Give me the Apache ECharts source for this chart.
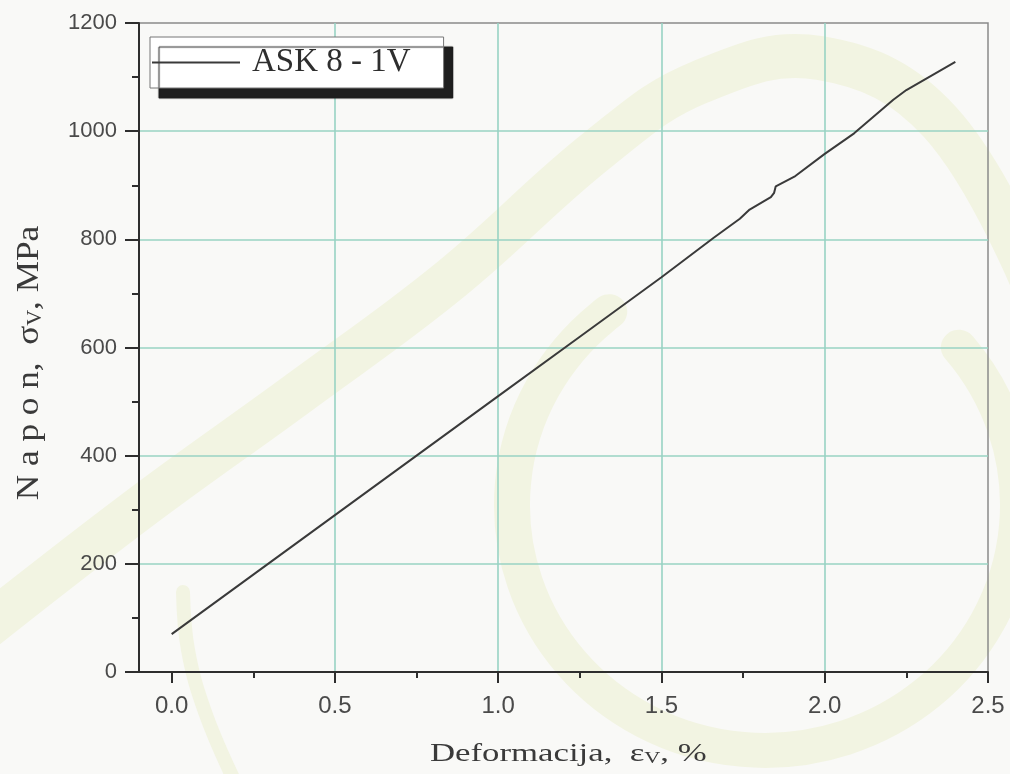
<!DOCTYPE html>
<html>
<head>
<meta charset="utf-8">
<script src="https://cdn.jsdelivr.net/npm/echarts@6/dist/echarts.min.js"></script>
<style>html,body{margin:0;padding:0;background:#f9f9f7;}#c{width:1010px;height:774px;}</style>
</head>
<body>
<div id="c"></div>
<script>
// ---- data ----
const seriesName = 'ASK 8 - 1V';
const strain = [0, 0.25, 0.5, 0.75, 1.0, 1.25, 1.5, 1.66, 1.74, 1.77, 1.835, 1.845, 1.85, 1.91, 2.0, 2.09, 2.21, 2.25, 2.40];
const stress = [70, 180, 290, 400, 510, 620, 730, 803, 838, 855, 878, 886, 898, 917, 958, 996, 1058, 1076, 1128];
const xMajorTicks = [0, 0.5, 1.0, 1.5, 2.0, 2.5];
const xMinorTicks = [0.25, 0.75, 1.25, 1.75, 2.25];
const xTickLabels = ['0.0', '0.5', '1.0', '1.5', '2.0', '2.5'];
const yTickLabels = ['0', '200', '400', '600', '800', '1000', '1200'];

const points = strain.map((x, i) => [x, stress[i]]);
const chart = echarts.init(document.getElementById('c'), null, {renderer: 'canvas'});
const gridColor = '#98d3c3';
const axisColor = '#2e2e2e';
const labelColor = '#4a4a4a';
const wm = '#f2f4e2';

chart.setOption({
  backgroundColor: '#f9f9f7',
  animation: false,
  grid: {left: 139, right: 22, top: 23, bottom: 102, show: true, borderColor: '#8a8a8a', borderWidth: 1.5, backgroundColor: 'transparent'},
  legend: {
    left: 150, top: 37,
    data: [{name: seriesName, icon: 'rect'}],
    backgroundColor: '#ffffff',
    borderColor: '#777', borderWidth: 1,
    shadowColor: '#1e1e1e', shadowBlur: 1, shadowOffsetX: 9, shadowOffsetY: 10,
    padding: [9, 33, 9, 2],
    itemWidth: 88, itemHeight: 2,
    itemStyle: {color: '#3a3a3a', borderWidth: 0},
    textStyle: {fontFamily: 'Liberation Serif', fontSize: 33, color: '#2e2e2e', padding: [0, 0, 0, 7]}
  },
  xAxis: [{
    type: 'value', min: -0.1, max: 2.5, minInterval: 0.5, maxInterval: 0.5,
    axisLine: {show: true, onZero: false, lineStyle: {color: axisColor, width: 2}},
    axisTick: {show: true, inside: false, length: 11, customValues: xMajorTicks, lineStyle: {color: axisColor, width: 2}},
    axisLabel: {customValues: xMajorTicks, formatter: v => xTickLabels[xMajorTicks.findIndex(t => Math.abs(t - v) < 1e-6)] ?? '', margin: 22, fontFamily: 'Liberation Sans', fontSize: 24, color: labelColor},
    splitLine: {show: true, showMinLine: false, showMaxLine: false, lineStyle: {color: gridColor, width: 1.6}}
  }, {
    type: 'value', min: -0.1, max: 2.5, position: 'bottom', gridIndex: 0,
    axisLine: {show: false},
    axisTick: {show: true, inside: false, length: 6, customValues: xMinorTicks, lineStyle: {color: axisColor, width: 2}},
    axisLabel: {show: false},
    splitLine: {show: false}
  }],
  yAxis: {
    type: 'value', min: 0, max: 1200, interval: 200,
    axisLine: {show: true, onZero: false, lineStyle: {color: axisColor, width: 2}},
    axisTick: {show: true, inside: false, length: 14, lineStyle: {color: axisColor, width: 2}},
    minorTick: {show: true, splitNumber: 2, length: 7, lineStyle: {color: axisColor, width: 2}},
    axisLabel: {margin: 22, fontFamily: 'Liberation Sans', fontSize: 22, color: labelColor,
      formatter: v => yTickLabels[Math.round(v / 200)] ?? ''},
    splitLine: {show: true, showMinLine: false, showMaxLine: false, lineStyle: {color: gridColor, width: 1.6}}
  },
  graphic: [
    // faint background watermark (decoration only)
    {type: 'polyline', z: -10, silent: true,
      shape: {points: [[-30, 640], [140, 508], [300, 392], [450, 280], [600, 148], [700, 82], [820, 58], [940, 122], [1040, 300]], smooth: 0.4},
      style: {stroke: wm, fill: null, lineWidth: 44, lineCap: 'round'}},
    {type: 'arc', z: -10, silent: true, x: 765, y: 505, scaleY: 0.97,
      shape: {cx: 0, cy: 0, r: 253, startAngle: -40 * Math.PI / 180, endAngle: 232 * Math.PI / 180, clockwise: true},
      style: {stroke: wm, fill: null, lineWidth: 36, lineCap: 'round'}},
    {type: 'polyline', z: -10, silent: true,
      shape: {points: [[183, 592], [188, 650], [205, 712], [234, 780]], smooth: 0.4},
      style: {stroke: wm, fill: null, lineWidth: 14, lineCap: 'round'}},
    // axis titles
    {type: 'text', x: 430, y: 741, z: 10,
      style: {text: '{t|Deformacija,  ε}{s|V}{t|, %}', rich: {
        t: {fontFamily: 'Liberation Serif', fontSize: 25, fill: '#3a3a3a'},
        s: {fontFamily: 'Liberation Serif', fontSize: 16, fill: '#3a3a3a', padding: [10, 0, 0, 0]}}},
      scaleX: 1.39
    },
    {type: 'text', x: 13, y: 363, rotation: Math.PI / 2, z: 10, scaleX: 1.1,
      style: {text: '{t|N a p o n,  σ}{s|V}{t|, MPa}', align: 'center', verticalAlign: 'top', rich: {
        t: {fontFamily: 'Liberation Serif', fontSize: 32, fill: '#3a3a3a'},
        s: {fontFamily: 'Liberation Serif', fontSize: 20, fill: '#3a3a3a', padding: [13, 0, 0, 0]}}}
    }
  ],
  series: [{
    name: seriesName, type: 'line', xAxisIndex: 0, yAxisIndex: 0,
    data: points, showSymbol: false, symbol: 'none', smooth: false,
    lineStyle: {color: '#3a3a3a', width: 2}
  }]
});
</script>
</body>
</html>
